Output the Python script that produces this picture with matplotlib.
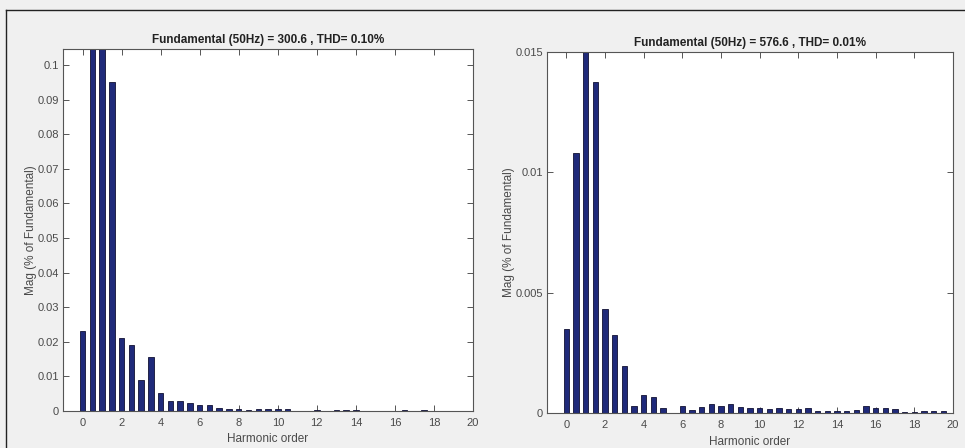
import matplotlib
matplotlib.use("Agg")
import matplotlib.pyplot as plt
from matplotlib.lines import Line2D
import numpy as np

plt.rcParams['font.family'] = ['Liberation Sans', 'DejaVu Sans']

# Harmonic orders (0 to 19.5 step 0.5)
harmonic_order = [i * 0.5 for i in range(40)]

# Left panel magnitudes (% of fundamental)
mag_left = [0.023, 0.35, 100.0, 0.095, 0.021, 0.019, 0.009, 0.0155,
            0.0052, 0.0029, 0.0029, 0.0022, 0.0018, 0.0018, 0.0009, 0.0006,
            0.0006, 0.0004, 0.0006, 0.0006, 0.0006, 0.0005, 0.0001, 0.00005,
            0.0002, 0.00005, 0.0002, 0.0004, 0.0002, 0.0001, 0.00005, 0.00005,
            0.00005, 0.0002, 0.00005, 0.0002, 0.00005, 0.00005, 0.00005, 0.00005]

# Right panel magnitudes (% of fundamental)
mag_right = [0.0035, 0.0108, 100.0, 0.01376, 0.0043, 0.00322, 0.00194, 0.0003,
             0.00075, 0.00068, 0.0002, 0.00002, 0.0003, 0.00013, 0.00025, 0.00036,
             0.0003, 0.00039, 0.00025, 0.00022, 0.0002, 0.00015, 0.0002, 0.00015,
             0.00017, 0.00022, 0.00007, 0.00007, 0.00007, 0.0001, 0.00013, 0.0003,
             0.0002, 0.00022, 0.00015, 0.00003, 0.00005, 0.00007, 0.00007, 0.0001]

titles = ["Fundamental (50Hz) = 300.6 , THD= 0.10%",
          "Fundamental (50Hz) = 576.6 , THD= 0.01%"]
x_ticks = [0, 2, 4, 6, 8, 10, 12, 14, 16, 18, 20]
y_ticks_left = [0, 0.01, 0.02, 0.03, 0.04, 0.05, 0.06, 0.07, 0.08, 0.09, 0.1]
y_ticklabels_left = ["0", "0.01", "0.02", "0.03", "0.04", "0.05", "0.06",
                     "0.07", "0.08", "0.09", "0.1"]
y_ticks_right = [0, 0.005, 0.01, 0.015]
y_ticklabels_right = ["0", "0.005", "0.01", "0.015"]

bg = '#f0f0f0'
txt = '#4a4a4a'
bar_color = '#1f2a7a'

fig = plt.figure(figsize=(9.65, 4.48), dpi=100, facecolor=bg)

ax1 = fig.add_axes([0.0653, 0.0826, 0.4249, 0.808])
ax2 = fig.add_axes([0.5668, 0.0781, 0.4207, 0.806])

panels = [(ax1, mag_left, 0.1046, y_ticks_left, y_ticklabels_left, titles[0]),
          (ax2, mag_right, 0.015, y_ticks_right, y_ticklabels_right, titles[1])]

for ax, mags, ytop, yt, ytl, ttl in panels:
    ax.set_facecolor('white')
    ax.bar(harmonic_order, mags, width=0.28, color=bar_color,
           edgecolor='#111133', linewidth=0.6, zorder=2)
    ax.set_xlim(-1, 20)
    ax.set_ylim(0, ytop)
    ax.set_xticks(x_ticks)
    ax.set_xticklabels([str(t) for t in x_ticks])
    ax.set_yticks(yt)
    ax.set_yticklabels(ytl)
    ax.tick_params(direction='in', top=True, right=True, length=4,
                   width=0.7, colors='#555555', labelcolor=txt, labelsize=8.0)
    ax.tick_params(axis='x', pad=5)
    ax.tick_params(axis='y', pad=3)
    for s in ax.spines.values():
        s.set_color('#555555')
        s.set_linewidth(0.8)
    ax.set_title(ttl, fontsize=8.5, fontweight='bold', color='#222222', pad=4)
    ax.set_xlabel("Harmonic order", fontsize=8.5, color=txt, labelpad=4)
    ax.set_ylabel("Mag (% of Fundamental)", fontsize=8.5, color=txt, labelpad=0)

# screenshot frame lines (top and left)
fig.add_artist(Line2D([6 / 965, 1.0], [1 - 10 / 448, 1 - 10 / 448],
                      transform=fig.transFigure, color='#222222', linewidth=1))
fig.add_artist(Line2D([6 / 965, 6 / 965], [0, 1 - 10 / 448],
                      transform=fig.transFigure, color='#222222', linewidth=1))

fig.savefig("out.png", dpi=100, facecolor=bg)
